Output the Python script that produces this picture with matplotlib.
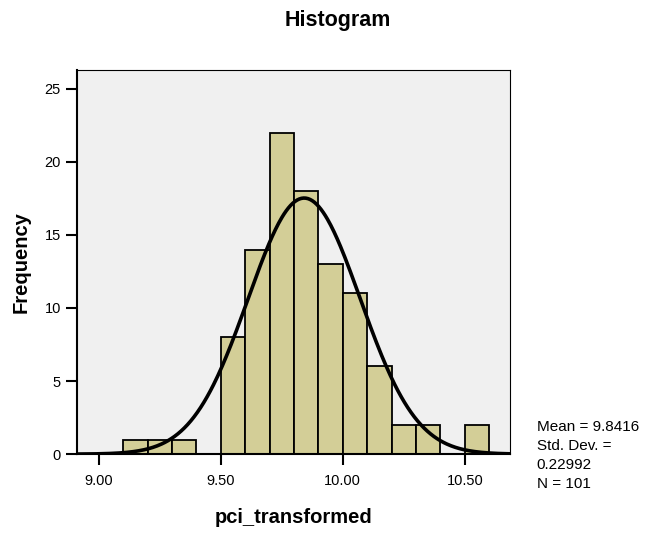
import numpy as np
import matplotlib
matplotlib.use("Agg")
import matplotlib.pyplot as plt

plt.rcParams['font.family'] = ['Liberation Sans', 'DejaVu Sans']

# histogram bins (width 0.1) and counts
bin_edges = [9.1, 9.2, 9.3, 9.4, 9.5, 9.6, 9.7, 9.8, 9.9, 10.0, 10.1, 10.2, 10.3, 10.4, 10.5, 10.6]
counts = [1, 1, 1, 0, 8, 14, 22, 18, 13, 11, 6, 2, 2, 0, 2]
mean = 9.8416
std = 0.22992
n = 101
xticks = [9.0, 9.5, 10.0, 10.5]
yticks = [0, 5, 10, 15, 20, 25]

fig = plt.figure(figsize=(6.46, 5.33), dpi=100)
ax = fig.add_axes([0.119, 0.148, 0.670, 0.721])
ax.set_facecolor('#f0f0f0')

lefts = np.array(bin_edges[:-1])
widths = np.diff(bin_edges)
for l, w, c in zip(lefts, widths, counts):
    if c > 0:
        ax.bar(l, c, width=w, align='edge', color='#d3ce97',
               edgecolor='black', linewidth=1.3, zorder=2)

# normal curve scaled to counts
xs = np.linspace(8.91, 10.684, 400)
bw = widths[0]
ys = n * bw * np.exp(-0.5 * ((xs - mean) / std) ** 2) / (std * np.sqrt(2 * np.pi))
ax.plot(xs, ys, color='black', linewidth=2.6, zorder=3)

ax.set_xlim(8.91, 10.684)
ax.set_ylim(0, 26.3)
ax.set_xticks(xticks)
ax.set_xticklabels(['%.2f' % t for t in xticks])
ax.set_yticks(yticks)
ax.tick_params(axis='both', direction='out', length=8, width=1.5,
               labelsize=10.5, colors='black')
ax.tick_params(axis='x', pad=6)
for s in ax.spines.values():
    s.set_linewidth(0.8)
ax.spines['left'].set_linewidth(1.5)
ax.spines['bottom'].set_linewidth(1.5)

ax.set_xlabel('pci_transformed', fontsize=14.5, fontweight='bold', labelpad=15)
ax.set_ylabel('Frequency', fontsize=14.5, fontweight='bold', labelpad=10)
fig.text(0.523, 0.962, 'Histogram', ha='center', va='center',
         fontsize=15.5, fontweight='bold')

fig.text(0.831, 0.212, 'Mean = %.4f\nStd. Dev. =\n%.5f\nN = %d' % (mean, std, n),
         ha='left', va='top', fontsize=11, linespacing=1.45)

fig.savefig('out.png', dpi=100)
